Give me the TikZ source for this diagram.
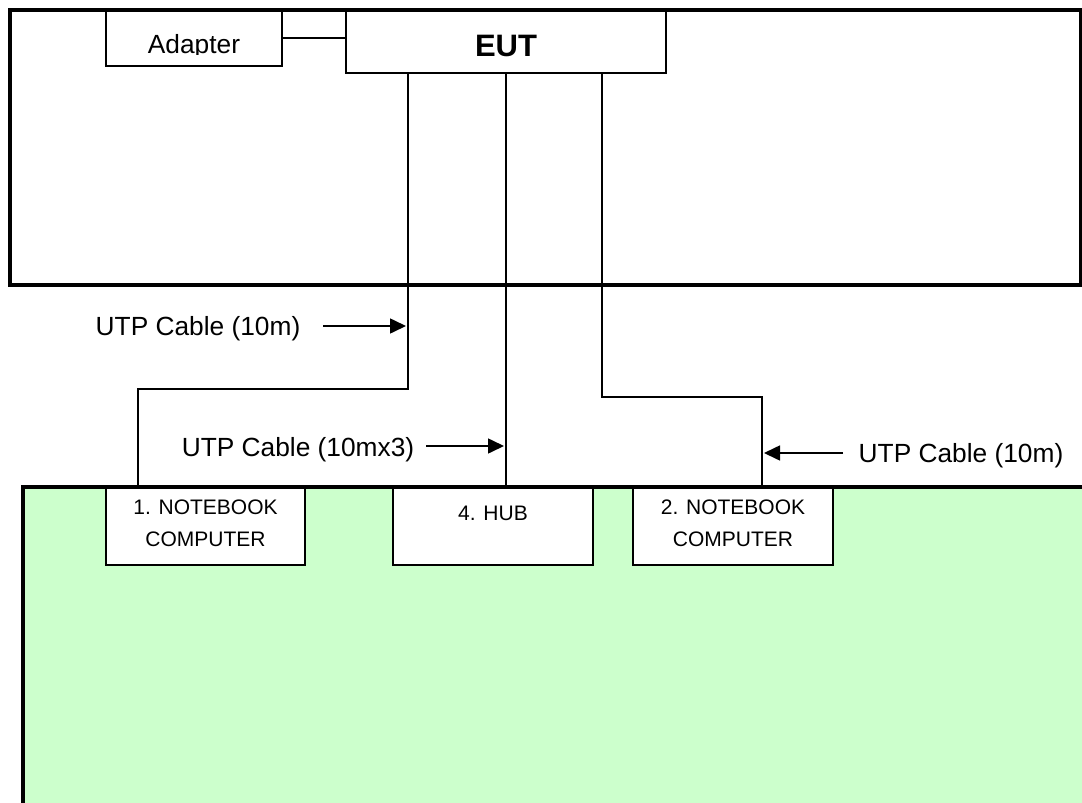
\documentclass[tikz,border=0pt]{standalone}
\usepackage{fontspec}
\setmainfont{Liberation Sans}
\usetikzlibrary{arrows.meta}
\definecolor{bench}{HTML}{CCFFCC}
\begin{document}
\begin{tikzpicture}[x=1pt,y=-1pt,
  box/.style={draw, line width=2pt, inner sep=0pt},
  wbox/.style={box, fill=white},
  wire/.style={line width=2pt},
  lbl/.style={font=\fontsize{26.3}{30}\selectfont, inner sep=0pt, anchor=base},
  small/.style={font=\fontsize{21}{25}\selectfont, inner sep=0pt, anchor=base},
  pointer/.style={line width=1.6pt, -{Triangle[length=16pt,width=15pt]}},
  frame/.style={line width=4pt}]
\useasboundingbox (0,0) rectangle (1082,803);
% backgrounds
\fill[bench] (23,486.5) rectangle (1082,803);
\fill[white] (10,9.5) rectangle (1080.5,284.5);
% boxes
\node[box, minimum width=176pt, minimum height=56pt] (adapter) at (194,38) {};
\node[box, minimum width=320pt, minimum height=63pt] (eut) at (506,41.5) {};
\node[wbox, minimum width=199pt, minimum height=77pt] (nb1) at (205.5,526.5) {};
\node[wbox, minimum width=200pt, minimum height=77pt] (hub) at (493,526.5) {};
\node[wbox, minimum width=200pt, minimum height=77pt] (nb2) at (733,526.5) {};
% texts
\begin{scope}
\clip (107,11) rectangle (281,54.5);
\node[lbl] (adaptertext) at (194,53) {Adapter};
\end{scope}
\node[font=\bfseries\fontsize{31}{36}\selectfont, inner sep=0pt, anchor=base] (euttext) at (506,56) {EUT};
\node[small] (nb1a) at (205.5,514) {1. NOTEBOOK};
\node[small] (nb1b) at (205.5,546) {COMPUTER};
\node[small] (huba) at (493,520) {4. HUB};
\node[small] (nb2a) at (733,514) {2. NOTEBOOK};
\node[small] (nb2b) at (733,546) {COMPUTER};
% wires
\coordinate (k1) at (408,389);
\coordinate (k2) at (138,389);
\coordinate (k3) at (602,397);
\coordinate (k4) at (762,397);
\draw[wire] (adapter.east) -- (eut.west |- adapter.east);
\draw[wire] (eut.south -| k1) -- (k1) -- (k2) -- (nb1.north -| k2);
\draw[wire] (eut.south) -- (hub.north -| eut.south);
\draw[wire] (eut.south -| k3) -- (k3) -- (k4) -- (nb2.north -| k4);
% cable labels
\node[lbl] (cab1) at (198,335) {UTP Cable (10m)};
\node[lbl] (cab2) at (298,456) {UTP Cable (10mx3)};
\node[lbl] (cab3) at (961,462) {UTP Cable (10m)};
\coordinate (s1) at (323,326);
\coordinate (t1) at (406,326);
\coordinate (s2) at (426,446);
\coordinate (t2) at (504,446);
\coordinate (s3) at (843,453);
\coordinate (t3) at (764,453);
\draw[pointer] (s1) -- (t1);
\draw[pointer] (s2) -- (t2);
\draw[pointer] (s3) -- (t3);
% frames
\draw[frame] (10,9.5) rectangle (1080.5,284.5);
\draw[frame] (23,805) -- (23,486.5) -- (1085,486.5);
\end{tikzpicture}
\end{document}
